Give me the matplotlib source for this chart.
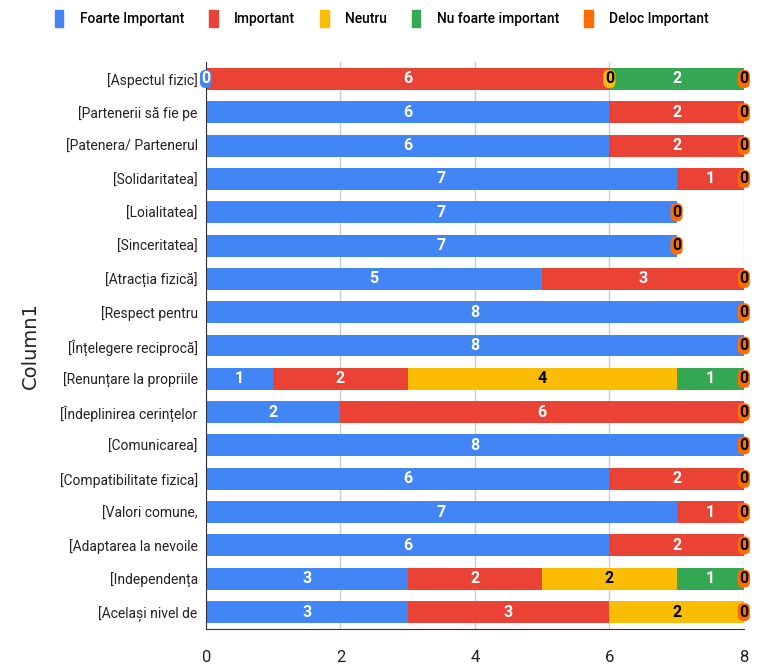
import matplotlib
matplotlib.use("Agg")
import matplotlib.pyplot as plt
import matplotlib.patches as mpatches
import numpy as np

nan = np.nan
categories = [
    "[Aspectul fizic]", "[Partenerii să fie pe", "[Patenera/ Partenerul",
    "[Solidaritatea]", "[Loialitatea]", "[Sinceritatea]", "[Atracția fizică]",
    "[Respect pentru", "[Înțelegere reciprocă]", "[Renunțare la propriile",
    "[Îndeplinirea cerințelor", "[Comunicarea]", "[Compatibilitate fizica]",
    "[Valori comune,", "[Adaptarea la nevoile", "[Independența",
    "[Același nivel de",
]
series_names = ["Foarte Important", "Important", "Neutru",
                "Nu foarte important", "Deloc Important"]
foarte = [0, 6, 6, 7, 7, 7, 5, 8, 8, 1, 2, 8, 6, 7, 6, 3, 3]
important = [6, 2, 2, 1, nan, nan, 3, nan, nan, 2, 6, nan, 2, 1, 2, 2, 3]
neutru = [0, nan, nan, nan, nan, nan, nan, nan, nan, 4, nan, nan, nan, nan, nan, 2, 2]
nu_foarte = [2, nan, nan, nan, nan, nan, nan, nan, nan, 1, nan, nan, nan, nan, nan, 1, nan]
deloc = [0] * 17
xticks = [0, 2, 4, 6, 8]

colors = ["#4285F4", "#EA4335", "#FBBC04", "#34A853", "#FF6D01"]
text_colors = ["white", "white", "black", "white", "black"]

fam = ["Roboto", "DejaVu Sans"]

fig = plt.figure(figsize=(7.64, 6.65), dpi=100)
ax = fig.add_axes([0.2696, 0.0546, 0.704, 0.8517])

data = [foarte, important, neutru, nu_foarte, deloc]
n = len(categories)
y = np.arange(n)
left = np.zeros(n)
for si, vals in enumerate(data):
    v = np.array(vals, dtype=float)
    w = np.nan_to_num(v)
    ax.barh(y, w, left=left, height=0.66, color=colors[si], zorder=2)
    for i in range(n):
        if np.isnan(v[i]):
            continue
        if v[i] == 0:
            ax.text(left[i], y[i], "0", ha="center", va="center",
                    fontsize=11.5, fontweight="bold",
                    color="black" if si != 0 else "white",
                    family=fam, zorder=4,
                    bbox=dict(boxstyle="round,pad=0.05,rounding_size=0.3",
                              fc=colors[si], ec=colors[si], lw=1))
        else:
            ax.text(left[i] + w[i] / 2, y[i], f"{int(v[i])}", ha="center",
                    va="center", fontsize=11.5, fontweight="bold",
                    color=text_colors[si], family=fam, zorder=3)
    left = left + w

ax.set_ylim(n - 0.5, -0.5)
ax.set_xlim(0, 8)
ax.set_xticks(xticks)
ax.set_xticklabels([str(t) for t in xticks], family=fam, fontsize=12, color="#222222")
ax.set_yticks(y)
ax.set_yticklabels(categories, family=fam, fontsize=10, color="#222222")
ax.tick_params(axis="both", length=0)
ax.tick_params(axis="x", pad=15)
ax.tick_params(axis="y", pad=6)
ax.grid(axis="x", color="#cccccc", lw=1, zorder=0)
for s in ["top", "right"]:
    ax.spines[s].set_visible(False)
ax.spines["left"].set_color("#333333")
ax.spines["bottom"].set_color("#333333")
ax.set_ylabel("Column1", fontsize=14, color="#222222", labelpad=14)

handles = [mpatches.Patch(fc=c, ec=c) for c in colors]
fig.legend(handles, series_names, loc="center", bbox_to_anchor=(0.5, 0.972),
           ncol=5, frameon=False, prop={"family": fam, "size": 10, "weight": "medium"},
           handlelength=0.6, handleheight=1.5, handletextpad=1.2, columnspacing=1.8)

fig.savefig("out.png", dpi=100)
